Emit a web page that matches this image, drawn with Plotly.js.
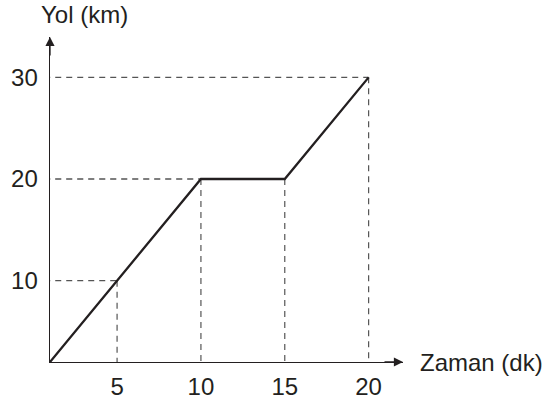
<!DOCTYPE html>
<html>
<head>
<meta charset="utf-8">
<script src="https://cdn.plot.ly/plotly-3.0.1.min.js"></script>
<style>html,body{margin:0;padding:0;background:#fff;}#chart{width:548px;height:403px;}</style>
</head>
<body>
<div id="chart"></div>
<script>
// Data: time (dk) vs distance (km)
const zaman = [0, 5, 10, 15, 20];
const yol = [0, 10, 20, 20, 30];
const xTicks = [5, 10, 15, 20];
const yTicks = [10, 20, 30];
const xTitle = 'Zaman (dk)';
const yTitle = 'Yol (km)';

// guide lines from each corner point to both axes
const gx = [], gy = [];
for (let i = 1; i < zaman.length; i++) {
  gx.push(0, zaman[i], null, zaman[i], zaman[i], null);
  gy.push(yol[i], yol[i], null, yol[i], 0, null);
}

const ink = '#231f20';
const font = {family: '"Liberation Sans", Arial, Helvetica, sans-serif', size: 24, color: ink};
const xr = [1, 22.05], yr = [2, 33.97];

const traces = [
  {x: gx, y: gy, mode: 'lines', line: {color: '#555', width: 1.2, dash: '6px,5px'}, hoverinfo: 'skip', connectgaps: false},
  {x: zaman, y: yol, mode: 'lines', line: {color: ink, width: 2.3}}
];

const layout = {
  width: 548, height: 403,
  margin: {l: 50, r: 145, t: 37, b: 41},
  paper_bgcolor: '#fff', plot_bgcolor: '#fff',
  showlegend: false,
  font: font,
  xaxis: {range: xr, showgrid: false, zeroline: false, showline: true, linecolor: ink, linewidth: 1.4,
          tickvals: xTicks, ticktext: xTicks.map(String), ticks: '', ticklabelstandoff: 3, tickfont: font, fixedrange: true},
  yaxis: {range: yr, showgrid: false, zeroline: false, showline: true, linecolor: ink, linewidth: 1.4,
          tickvals: yTicks, ticktext: yTicks.map(String), ticks: '', ticklabelstandoff: 6, tickfont: font, fixedrange: true},
  annotations: [
    {x: xr[1], y: yr[0], xref: 'x', yref: 'y', ax: -20, ay: 0, text: '', showarrow: true, arrowhead: 2, arrowsize: 1.4, arrowwidth: 1.3, arrowcolor: ink, standoff: 0},
    {x: xr[0], y: yr[1], xref: 'x', yref: 'y', ax: 0, ay: 20, text: '', showarrow: true, arrowhead: 2, arrowsize: 1.4, arrowwidth: 1.3, arrowcolor: ink, standoff: 0},
    {x: -0.031, y: 1.0677, xref: 'paper', yref: 'paper', xanchor: 'left', yanchor: 'middle', text: yTitle, showarrow: false, font: font},
    {x: 1.0425, y: 0, xref: 'paper', yref: 'paper', xanchor: 'left', yanchor: 'middle', text: xTitle, showarrow: false, font: font}
  ]
};

Plotly.newPlot('chart', traces, layout, {displayModeBar: false, staticPlot: true});
</script>
</body>
</html>
